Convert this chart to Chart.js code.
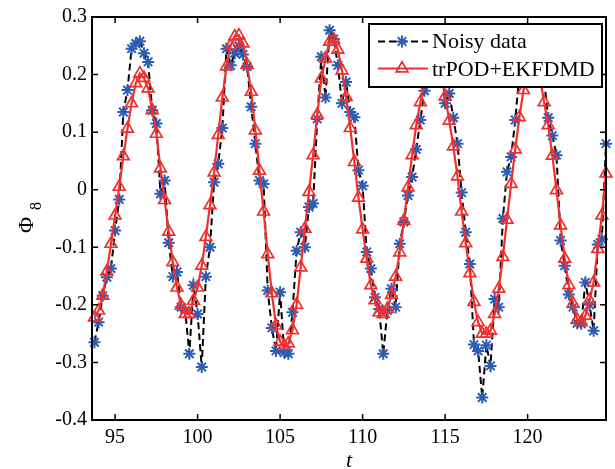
<!DOCTYPE html>
<html><head><meta charset="utf-8">
<script src="https://cdn.jsdelivr.net/npm/chart.js@4.4.1/dist/chart.umd.min.js"></script>
<style>html,body{margin:0;padding:0;background:#fff}#c{display:block}</style>
</head><body>
<canvas id="c" width="615" height="469" style="width:615px;height:469px"></canvas>
<script>
const t = [93.75,94,94.25,94.5,94.75,95,95.25,95.5,95.75,96,96.25,96.5,96.75,97,97.25,97.5,97.75,98,98.25,98.5,98.75,99,99.25,99.5,99.75,100,100.25,100.5,100.75,101,101.25,101.5,101.75,102,102.25,102.5,102.75,103,103.25,103.5,103.75,104,104.25,104.5,104.75,105,105.25,105.5,105.75,106,106.25,106.5,106.75,107,107.25,107.5,107.75,108,108.25,108.5,108.75,109,109.25,109.5,109.75,110,110.25,110.5,110.75,111,111.25,111.5,111.75,112,112.25,112.5,112.75,113,113.25,113.5,113.75,114,114.25,114.5,114.75,115,115.25,115.5,115.75,116,116.25,116.5,116.75,117,117.25,117.5,117.75,118,118.25,118.5,118.75,119,119.25,119.5,119.75,120,120.25,120.5,120.75,121,121.25,121.5,121.75,122,122.25,122.5,122.75,123,123.25,123.5,123.75,124,124.25,124.5,124.75];
const noisy = [
-0.265,-0.230,-0.184,-0.152,-0.137,-0.071,-0.017,0.135,0.173,0.245,
0.254,0.258,0.237,0.222,0.138,0.115,-0.007,0.016,-0.092,-0.151,
-0.143,-0.204,-0.210,-0.285,-0.166,-0.216,-0.308,-0.151,-0.100,0.013,
0.045,0.107,0.245,0.216,0.237,0.250,0.235,0.214,0.144,0.080,
0.016,0.010,-0.175,-0.240,-0.280,-0.178,-0.283,-0.285,-0.213,-0.106,
-0.074,-0.100,-0.030,-0.024,0.123,0.231,0.160,0.277,0.262,0.216,
0.150,0.187,0.135,0.126,0.034,0.007,-0.108,-0.137,-0.187,-0.207,
-0.285,-0.210,-0.172,-0.204,-0.094,-0.056,-0.010,0.022,0.070,0.121,
0.172,0.220,0.250,0.260,0.215,0.150,0.167,0.125,0.080,-0.005,
-0.074,-0.129,-0.269,-0.280,-0.361,-0.270,-0.306,-0.190,-0.204,-0.050,
0.031,0.057,0.121,0.200,0.230,0.250,0.260,0.240,0.210,0.190,
0.125,0.094,0.060,-0.088,-0.132,-0.182,-0.204,-0.232,-0.233,-0.161,
-0.200,-0.245,-0.095,-0.086,0.080];
const trpod = [
-0.222,-0.210,-0.184,-0.142,-0.094,-0.045,0.005,0.058,0.106,0.150,
0.185,0.202,0.194,0.176,0.138,0.097,0.037,-0.018,-0.073,-0.126,
-0.170,-0.201,-0.216,-0.216,-0.193,-0.170,-0.132,-0.082,-0.027,0.030,
0.095,0.160,0.214,0.250,0.266,0.268,0.254,0.217,0.170,0.103,
0.033,-0.038,-0.112,-0.180,-0.236,-0.264,-0.271,-0.267,-0.244,-0.200,
-0.135,-0.068,-0.004,0.060,0.130,0.193,0.228,0.257,0.261,0.243,
0.207,0.161,0.107,0.048,-0.014,-0.069,-0.120,-0.166,-0.192,-0.213,
-0.216,-0.207,-0.183,-0.151,-0.109,-0.054,0.004,0.060,0.112,0.152,
0.185,0.220,0.240,0.235,0.205,0.162,0.120,0.075,0.023,-0.038,
-0.093,-0.145,-0.195,-0.230,-0.250,-0.250,-0.245,-0.216,-0.172,-0.117,
-0.052,0.010,0.070,0.126,0.173,0.205,0.225,0.225,0.195,0.152,
0.112,0.059,-0.001,-0.062,-0.120,-0.166,-0.198,-0.226,-0.230,-0.219,
-0.192,-0.161,-0.103,-0.045,0.028];
const xTicks = [95,100,105,110,115,120];
const yTicks = [-0.4,-0.3,-0.2,-0.1,0,0.1,0.2,0.3];
const yTickLabels = ['-0.4','-0.3','-0.2','-0.1','0','0.1','0.2','0.3'];
const seriesNames = ['Noisy data','trPOD+EKFDMD'];
const xTitle = 't';
const yTitleMain = 'Φ';
const yTitleSub = '8';

const BLUE = '#2d5db2';
const RED = '#f0302e';
const SERIF = "'Liberation Serif','Times New Roman',serif";
const STAR_R = 6, TRI_R = 6.8;

function starMark(ctx, x, y, r){
  ctx.beginPath();
  ctx.moveTo(x - r, y); ctx.lineTo(x + r, y);
  ctx.moveTo(x, y - r); ctx.lineTo(x, y + r);
  const d = r * Math.SQRT1_2;
  ctx.moveTo(x - d, y - d); ctx.lineTo(x + d, y + d);
  ctx.moveTo(x - d, y + d); ctx.lineTo(x + d, y - d);
  ctx.stroke();
}
function triMark(ctx, x, y, r){
  ctx.beginPath();
  let rad = 0;
  ctx.moveTo(x + Math.sin(rad) * r, y - Math.cos(rad) * r);
  rad += 2 * Math.PI / 3;
  ctx.lineTo(x + Math.sin(rad) * r, y - Math.cos(rad) * r);
  rad += 2 * Math.PI / 3;
  ctx.lineTo(x + Math.sin(rad) * r, y - Math.cos(rad) * r);
  ctx.closePath();
  ctx.stroke();
}

const deco = {
  id: 'deco',
  beforeDraw(chart){
    const ctx = chart.ctx;
    ctx.save(); ctx.fillStyle = '#fff'; ctx.fillRect(0, 0, chart.width, chart.height); ctx.restore();
  },
  afterDatasetsDraw(chart){
    const {ctx, chartArea: a, scales: {x, y}} = chart;
    ctx.save();
    ctx.strokeStyle = '#000'; ctx.lineWidth = 1.5; ctx.setLineDash([]);
    ctx.beginPath();
    xTicks.forEach(v => {
      const p = x.getPixelForValue(v);
      ctx.moveTo(p, a.bottom); ctx.lineTo(p, a.bottom - 6);
      ctx.moveTo(p, a.top); ctx.lineTo(p, a.top + 6);
    });
    yTicks.forEach(v => {
      const p = y.getPixelForValue(v);
      ctx.moveTo(a.left, p); ctx.lineTo(a.left + 6, p);
      ctx.moveTo(a.right, p); ctx.lineTo(a.right - 6, p);
    });
    ctx.stroke();
    ctx.lineWidth = 2;
    ctx.strokeRect(a.left, a.top, a.right - a.left, a.bottom - a.top);

    const lx = a.left + 277, ly = a.top + 7, lw = 233, lh = 63;
    ctx.fillStyle = '#fff';
    ctx.fillRect(lx, ly, lw, lh);
    ctx.lineWidth = 2; ctx.strokeStyle = '#000';
    ctx.strokeRect(lx, ly, lw, lh);
    const sx0 = lx + 9, sx1 = lx + 59, mx = lx + 33;
    const r1 = ly + 17.5, r2 = ly + 44.5;
    ctx.strokeStyle = '#000'; ctx.lineWidth = 2; ctx.setLineDash([7, 4]);
    ctx.beginPath(); ctx.moveTo(sx0, r1); ctx.lineTo(sx1, r1); ctx.stroke();
    ctx.setLineDash([]);
    ctx.strokeStyle = BLUE; ctx.lineWidth = 2;
    starMark(ctx, mx, r1, STAR_R);
    ctx.strokeStyle = RED; ctx.lineWidth = 2.2;
    ctx.beginPath(); ctx.moveTo(sx0, r2); ctx.lineTo(sx1, r2); ctx.stroke();
    ctx.lineWidth = 1.7;
    triMark(ctx, mx, r2, TRI_R);
    ctx.fillStyle = '#000';
    ctx.font = '22px ' + SERIF;
    ctx.textAlign = 'left'; ctx.textBaseline = 'middle';
    ctx.fillText(seriesNames[0], lx + 63, r1 + 1);
    ctx.fillText(seriesNames[1], lx + 63, r2 + 2);
    ctx.restore();
  },
  afterDraw(chart){
    const {ctx, chartArea: a} = chart;
    ctx.save();
    ctx.fillStyle = '#000';
    ctx.textBaseline = 'alphabetic';
    ctx.font = 'italic 22px ' + SERIF;
    ctx.textAlign = 'center';
    ctx.fillText(xTitle, (a.left + a.right) / 2, 467);
    ctx.translate(33, 233);
    ctx.rotate(-Math.PI / 2);
    ctx.textAlign = 'left';
    ctx.font = '22px ' + SERIF;
    ctx.fillText(yTitleMain, 0, 0);
    ctx.font = '16px ' + SERIF;
    ctx.fillText(yTitleSub, 23, 8);
    ctx.restore();
  }
};

new Chart(document.getElementById('c'), {
  type: 'line',
  data: {
    datasets: [
      {
        label: seriesNames[0],
        data: t.map((v, i) => ({x: v, y: noisy[i]})),
        borderColor: '#000', borderWidth: 2, borderDash: [7, 4],
        pointStyle: 'star', pointRadius: STAR_R, pointBorderColor: BLUE, pointBackgroundColor: BLUE,
        pointBorderWidth: 2, tension: 0, fill: false, order: 1
      },
      {
        label: seriesNames[1],
        data: t.map((v, i) => ({x: v, y: trpod[i]})),
        borderColor: RED, borderWidth: 2.2,
        pointStyle: 'triangle', pointRadius: TRI_R, pointBorderColor: RED, pointBackgroundColor: 'rgba(0,0,0,0)',
        pointBorderWidth: 1.7, tension: 0, fill: false, order: 0
      }
    ]
  },
  options: {
    responsive: false, animation: false, devicePixelRatio: 1,
    clip: false,
    layout: {padding: {left: 0, right: 9, top: 17, bottom: 0}},
    plugins: {legend: {display: false}, tooltip: {enabled: false}},
    scales: {
      x: {
        type: 'linear', min: 93.6, max: 124.75,
        grid: {display: false, drawTicks: false}, border: {display: false},
        afterBuildTicks: s => { s.ticks = xTicks.map(v => ({value: v})); },
        afterFit: s => { s.height = 49; },
        ticks: {autoSkip: false, maxRotation: 0, padding: 6, color: '#000',
          font: {family: SERIF, size: 20}, callback: v => String(v)}
      },
      y: {
        type: 'linear', min: -0.4, max: 0.3,
        grid: {display: false, drawTicks: false}, border: {display: false},
        afterBuildTicks: s => { s.ticks = yTicks.map(v => ({value: v})); },
        afterFit: s => { s.width = 92; },
        ticks: {autoSkip: false, padding: 5, color: '#000',
          font: {family: SERIF, size: 20}, callback: (v, i) => yTickLabels[i]}
      }
    }
  },
  plugins: [deco]
});
</script>
</body></html>
